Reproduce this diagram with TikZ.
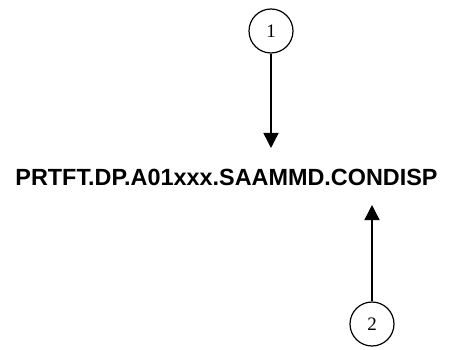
\documentclass[tikz,border=0pt]{standalone}
\usepackage{fontspec}
\setmainfont{Liberation Serif}
\newfontfamily\labelfont{Liberation Sans}
\usetikzlibrary{arrows.meta}
\definecolor{darkline}{HTML}{000000}
\tikzset{
  callout/.style={circle, draw=darkline, line width=1.2pt, minimum size=44pt, inner sep=0pt, font=\fontsize{19}{21}\selectfont},
  filename/.style={inner sep=0pt, font=\labelfont\bfseries\fontsize{23.4}{28}\selectfont},
  flow/.style={-{Triangle[length=15pt, width=15pt]}, line width=1.4pt, draw=darkline}
}
\begin{document}
\begin{tikzpicture}[x=1pt, y=-1pt]

\useasboundingbox (0,0) rectangle (450,350);

\node[callout] (one) at (271, 31) {1};
\node[filename] (file) at (226.5, 177.5) {PRTFT.DP.A01xxx.SAAMMD.CONDISP};
\node[callout] (two) at (372, 324) {2};

\coordinate (tipone) at (271, 148);
\coordinate (tiptwo) at (372, 205);

\draw[flow] (one) -- (tipone);
\draw[flow] (two) -- (tiptwo);

\end{tikzpicture}
\end{document}
